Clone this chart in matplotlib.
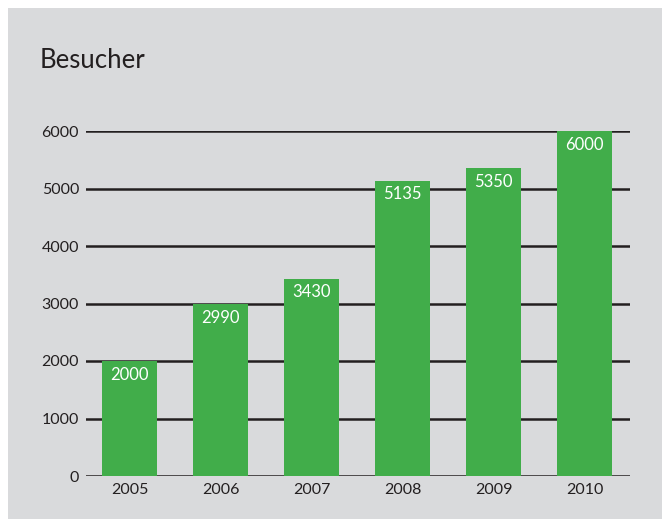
import matplotlib.pyplot as plt
from matplotlib.patches import Rectangle

years = ["2005", "2006", "2007", "2008", "2009", "2010"]
visitors = [2000, 2990, 3430, 5135, 5350, 6000]
yticks = [0, 1000, 2000, 3000, 4000, 5000, 6000]

bg = "#d9dadc"
green = "#41ad4a"
dark = "#231f20"

plt.rcParams["font.family"] = ["Lato", "DejaVu Sans"]

W, H = 662, 519
fig = plt.figure(figsize=(W / 100, H / 100), dpi=100)
fig.patch.set_facecolor("white")
fig.patches.append(Rectangle((8 / W, 0), 1, (H - 8) / H, transform=fig.transFigure,
                             facecolor=bg, edgecolor="none", zorder=-10))

ax = fig.add_axes([86 / W, 43 / H, (630 - 86) / W, (476 - 131) / H])
ax.set_facecolor("none")

x = list(range(len(years)))
bars = ax.bar(x, visitors, width=0.6, color=green, zorder=2, clip_on=False)
for xi, v in zip(x, visitors):
    ax.annotate(str(v), (xi, v), xytext=(0, -4), textcoords="offset points",
                ha="center", va="top", color="white", fontsize=12, zorder=3)

for t in yticks:
    ax.axhline(t, color=dark, lw=1.8, zorder=1)

ax.set_xlim(-0.478, 5.5)
ax.set_ylim(0, 6000)
ax.set_xticks(x)
ax.set_xticklabels(years)
ax.set_yticks(yticks)
ax.tick_params(length=0, labelsize=11.5, colors=dark)
ax.tick_params(axis="y", pad=5)
ax.tick_params(axis="x", pad=5)
for s in ax.spines.values():
    s.set_visible(False)

fig.text(40 / W, 1 - 68 / H, "Besucher", fontsize=18.5, color=dark, va="baseline")

fig.savefig("out.png", dpi=100)
